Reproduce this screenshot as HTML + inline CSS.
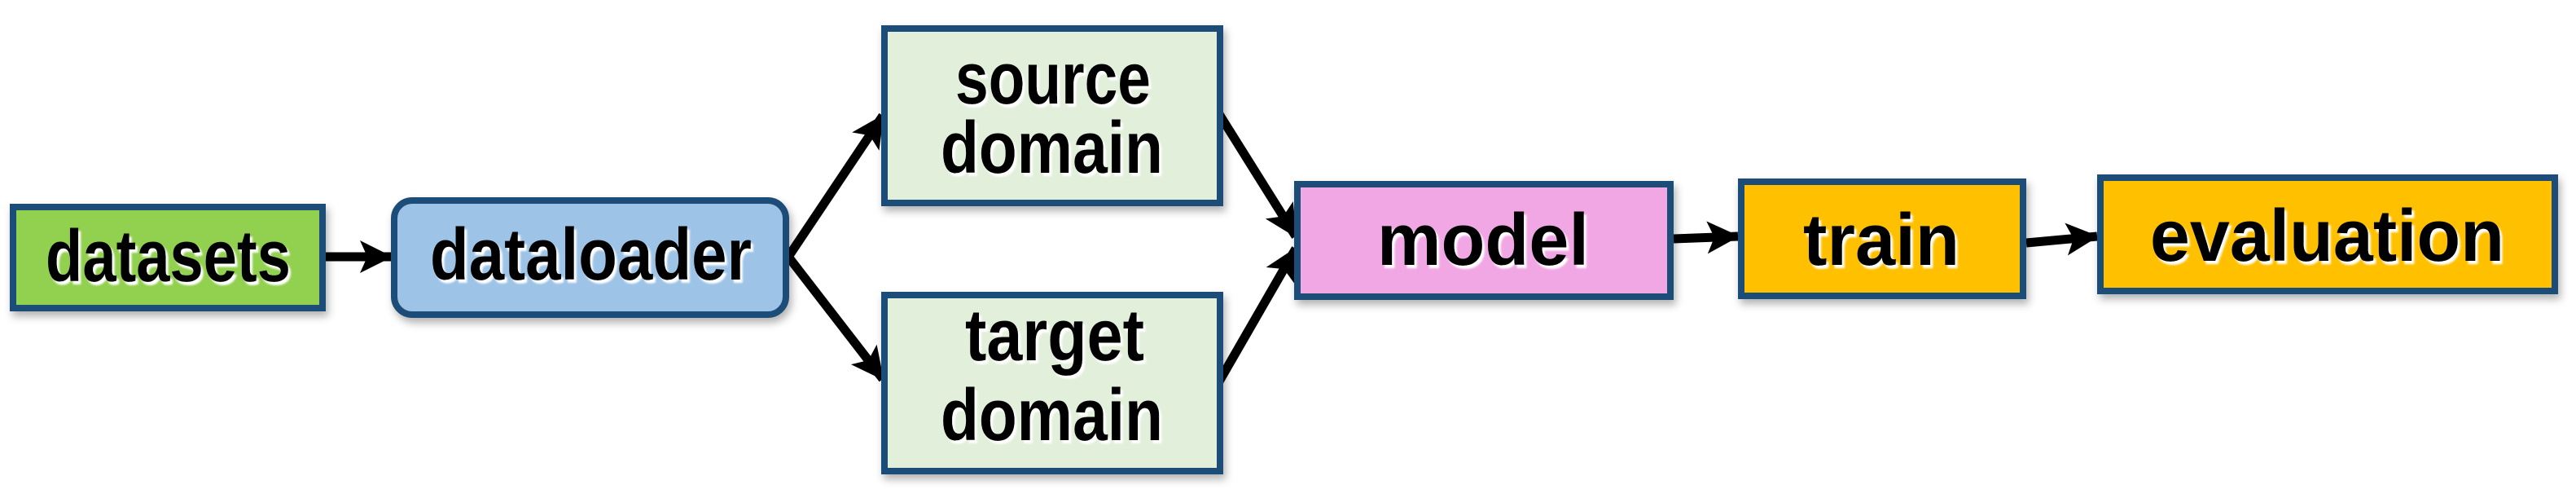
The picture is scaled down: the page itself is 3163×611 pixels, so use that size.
<!DOCTYPE html>
<html><head><meta charset="utf-8"><style>
html,body{margin:0;padding:0;background:#fff;}
svg{display:block;}
text{font-family:"Liberation Sans",sans-serif;font-weight:bold;font-size:90px;fill:#000;}
</style></head><body>
<svg width="3163" height="611" viewBox="0 0 3163 611" xmlns="http://www.w3.org/2000/svg">
<defs>
<marker id="ah" markerUnits="userSpaceOnUse" markerWidth="44" markerHeight="44" refX="38" refY="20" orient="auto">
<path d="M0,0 L40,20 L0,40 L9,20 Z" fill="#000"/>
</marker>
<filter id="sh" x="-10%" y="-10%" width="120%" height="130%"><feDropShadow dx="3" dy="6" stdDeviation="5" flood-color="#000" flood-opacity="0.3"/></filter>
<filter id="ts"><feDropShadow dx="3" dy="4" stdDeviation="1" flood-color="#fff" flood-opacity="1"/></filter>
</defs>
<g stroke="#000" stroke-width="11" fill="none" marker-end="url(#ah)">
<line x1="398" y1="315" x2="480" y2="315"/>
<line x1="968" y1="315" x2="1084" y2="142"/>
<line x1="968" y1="315" x2="1084" y2="465"/>
<line x1="1497" y1="140" x2="1591" y2="290"/>
<line x1="1497" y1="468" x2="1591" y2="305"/>
<line x1="2055" y1="293" x2="2134" y2="290"/>
<line x1="2488" y1="298" x2="2575" y2="290"/>
</g>
<g stroke="#1f4e79" stroke-width="8" filter="url(#sh)">
<rect x="16" y="254" width="380" height="124" fill="#92d050"/>
<rect x="484" y="246" width="481" height="140" rx="22" fill="#9dc3e6"/>
<rect x="1086" y="35" width="412" height="214" fill="#e2efda"/>
<rect x="1086" y="362" width="412" height="216" fill="#e2efda"/>
<rect x="1593" y="226" width="458" height="138" fill="#f1a7e4"/>
<rect x="2138" y="223" width="346" height="140" fill="#ffc000"/>
<rect x="2579" y="218" width="558" height="139" fill="#ffc000"/>
</g>
<g filter="url(#ts)">
<text x="56" y="345" textLength="301" lengthAdjust="spacingAndGlyphs">datasets</text>
<text x="528" y="343" textLength="395" lengthAdjust="spacingAndGlyphs">dataloader</text>
<text x="1173" y="127" textLength="240" lengthAdjust="spacingAndGlyphs">source</text>
<text x="1155" y="212" textLength="273" lengthAdjust="spacingAndGlyphs">domain</text>
<text x="1185" y="442" textLength="220" lengthAdjust="spacingAndGlyphs">target</text>
<text x="1155" y="540" textLength="273" lengthAdjust="spacingAndGlyphs">domain</text>
<text x="1691" y="325" textLength="260" lengthAdjust="spacingAndGlyphs">model</text>
<text x="2214" y="325" textLength="192" lengthAdjust="spacingAndGlyphs">train</text>
<text x="2640" y="320" textLength="435" lengthAdjust="spacingAndGlyphs">evaluation</text>
</g>
</svg>
</body></html>
